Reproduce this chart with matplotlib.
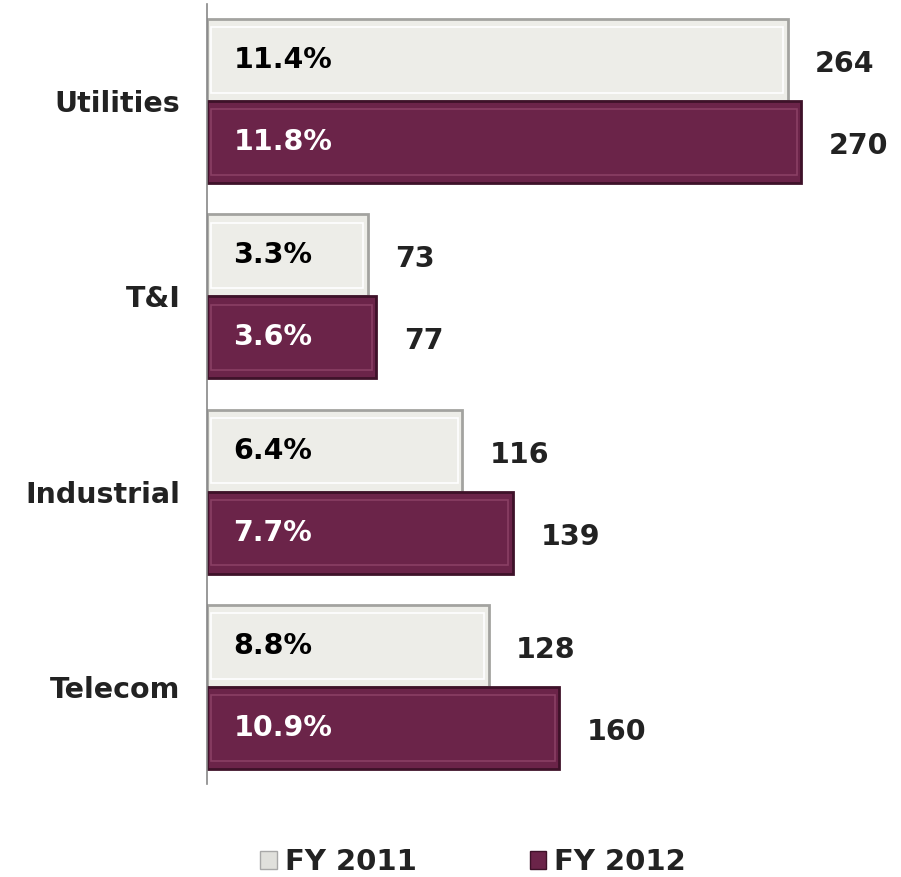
import matplotlib.pyplot as plt
import numpy as np
from matplotlib.patches import Patch

categorias = ['Utilities', 'T&I', 'Industrial', 'Telecom']
fy2011 = [264, 73, 116, 128]
fy2012 = [270, 77, 139, 160]
pct2011 = ['11.4%', '3.3%', '6.4%', '8.8%']
pct2012 = ['11.8%', '3.6%', '7.7%', '10.9%']

cor11, borda11 = '#EDEDE8', '#A3A3A0'
cor12, borda12 = '#6B2449', '#3E1229'

fig = plt.figure(figsize=(9.01, 8.77), dpi=100)
ax = fig.add_axes([0.2297, 0.1055, 0.7325, 0.8905])

y = np.arange(len(categorias))
h = 0.42
ax.barh(y - h/2, fy2011, height=h, color=cor11, edgecolor=borda11, linewidth=2)
ax.barh(y + h/2, fy2012, height=h, color=cor12, edgecolor=borda12, linewidth=2)
# brilho interno pra dar o efeito de relevo
ax.barh(y - h/2, np.array(fy2011) - 4, height=h*0.8, left=2, color='none',
        edgecolor='#FFFFFF', linewidth=1.2)
ax.barh(y + h/2, np.array(fy2012) - 4, height=h*0.8, left=2, color='none',
        edgecolor='#8A3F64', linewidth=1.2)

for k in range(len(categorias)):
    ax.text(12, y[k] - h/2, pct2011[k], va='center', ha='left',
            fontsize=20.5, fontweight='bold', color='black')
    ax.text(12, y[k] + h/2, pct2012[k], va='center', ha='left',
            fontsize=20.5, fontweight='bold', color='white')
    ax.text(fy2011[k] + 12.5, y[k] - h/2 + 0.02, str(fy2011[k]), va='center', ha='left',
            fontsize=20.5, fontweight='bold', color='#222222')
    ax.text(fy2012[k] + 12.5, y[k] + h/2 + 0.02, str(fy2012[k]), va='center', ha='left',
            fontsize=20.5, fontweight='bold', color='#222222')

ax.set_ylim(3.5, -0.5)
ax.set_xlim(0, 300)
ax.set_yticks(y)
ax.set_yticklabels(categorias, fontsize=20.5, fontweight='bold', color='#222222')
ax.tick_params(axis='y', length=0, pad=19)
ax.set_xticks([])
for lado in ['top', 'right', 'bottom']:
    ax.spines[lado].set_visible(False)
ax.spines['left'].set_color('#888888')
ax.spines['left'].set_linewidth(1.2)

handles = [Patch(facecolor='#E0E0DC', edgecolor='#A8A8A8', label='FY 2011'),
           Patch(facecolor=cor12, edgecolor=borda12, label='FY 2012')]
leg = fig.legend(handles=handles, loc='center', bbox_to_anchor=(0.525, 0.017), ncol=2,
                 frameon=False, handlelength=0.58, handleheight=0.58, handletextpad=0.27,
                 columnspacing=3.87, prop={'size': 21, 'weight': 'bold'})
for t in leg.get_texts():
    t.set_color('#222222')

fig.savefig('out.png', dpi=100)
